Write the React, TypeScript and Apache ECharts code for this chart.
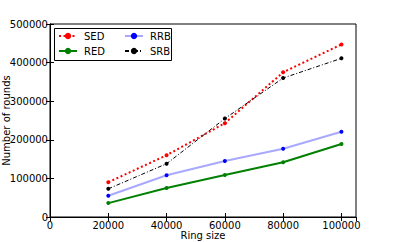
import React, { useEffect, useRef } from "react";
import * as echarts from "echarts";

const ringSizes = [20000, 40000, 60000, 80000, 100000];
const sedValues = [90000, 160000, 243000, 375000, 447000];
const redValues = [36000, 75000, 109000, 142000, 189000];
const rrbValues = [55000, 108000, 145000, 177000, 221000];
const srbValues = [73000, 138000, 255000, 360000, 411000];
const seriesNames = ["SED", "RED", "RRB", "SRB"];

const pairs = (vals: number[]) => ringSizes.map((x, i) => [x, vals[i]]);

const FONT = "DejaVu Sans";

export default function App() {
  const ref = useRef<HTMLDivElement>(null);
  useEffect(() => {
    if (!ref.current) return;
    const chart = echarts.init(ref.current, undefined, { renderer: "svg" });
    const axisCommon = {
      axisLine: { show: true, lineStyle: { color: "#000", width: 1 } },
      axisTick: { show: true, inside: true, length: 4, lineStyle: { color: "#000" } },
      splitLine: { show: false },
    };
    const labelStyle = { color: "#000", fontFamily: FONT, fontSize: 10 };
    const fmt = (v: number) => String(v);
    const legendCommon = {
      orient: "vertical", top: 31, padding: 0,
      itemWidth: 18, itemHeight: 8, itemGap: 5,
      textStyle: { ...labelStyle, fontSize: 10, padding: [0, 0, 0, 2] }, z: 5,
    };
    chart.setOption({
      animation: false,
      backgroundColor: "#fff",
      textStyle: { fontFamily: FONT },
      grid: {
        left: 50, right: 40, top: 24, bottom: 25, show: true, borderColor: "#000", borderWidth: 1,
        backgroundColor: "transparent", outerBoundsMode: "none", containLabel: false,
      },
      xAxis: [
        {
          type: "value", min: 0, max: 105000, interval: 20000, position: "bottom",
          ...axisCommon,
          axisLabel: { ...labelStyle, margin: 3, showMaxLabel: false, formatter: fmt },
          name: "Ring size", nameLocation: "middle", nameGap: 13, nameMoveOverlap: false,
          nameTextStyle: { ...labelStyle, verticalAlign: "top" },
        },
        {
          type: "value", min: 0, max: 105000, interval: 20000, position: "top",
          ...axisCommon, axisLabel: { show: false },
        },
      ],
      yAxis: [
        {
          type: "value", min: 0, max: 500000, interval: 100000, position: "left",
          ...axisCommon,
          axisLabel: { ...labelStyle, margin: 2, formatter: fmt },
          name: "Number of rounds", nameLocation: "middle", nameGap: 44, nameMoveOverlap: false,
          nameTextStyle: { ...labelStyle, verticalAlign: "middle" },
        },
        {
          type: "value", min: 0, max: 500000, interval: 100000, position: "right",
          ...axisCommon, axisLabel: { show: false },
        },
      ],
      legend: [
        { ...legendCommon, data: [seriesNames[0], seriesNames[1]], left: 58 },
        { ...legendCommon, data: [seriesNames[2], seriesNames[3]], left: 124 },
      ],
      graphic: [
        {
          type: "rect", left: 54, top: 28, z: 4,
          shape: { width: 117, height: 32 },
          style: { fill: "#fff", stroke: "#000", lineWidth: 1 },
        },
      ],
      series: [
        {
          name: seriesNames[0], type: "line", data: pairs(sedValues),
          symbol: "circle", symbolSize: 4, color: "#ff0000",
          lineStyle: { color: "#ff0000", width: 2, type: [2, 2.5] },
          itemStyle: { color: "#ff0000" },
        },
        {
          name: seriesNames[1], type: "line", data: pairs(redValues),
          symbol: "circle", symbolSize: 4, color: "#008000",
          lineStyle: { color: "#008000", width: 2 },
          itemStyle: { color: "#008000" },
        },
        {
          name: seriesNames[2], type: "line", data: pairs(rrbValues),
          symbol: "circle", symbolSize: 4, color: "#0000ff",
          lineStyle: { color: "#a8a8ff", width: 2 },
          itemStyle: { color: "#0000ff" },
        },
        {
          name: seriesNames[3], type: "line", data: pairs(srbValues),
          symbol: "circle", symbolSize: 4, color: "#000",
          lineStyle: { color: "#000", width: 1, type: [4, 2, 1, 2] },
          itemStyle: { color: "#000" },
        },
      ],
    });
    return () => chart.dispose();
  }, []);
  return <div ref={ref} style={{ position: "fixed", left: 0, top: 0, width: 396, height: 242 }} />;
}
